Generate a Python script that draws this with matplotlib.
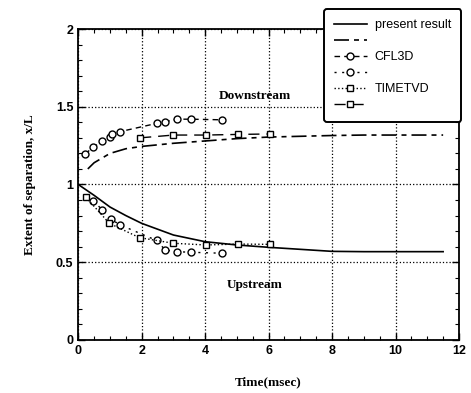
import matplotlib.pyplot as plt
from matplotlib.ticker import MultipleLocator

# present result (upstream: solid, downstream: long dash)
up_x = [0, 0.5, 1, 1.5, 2, 3, 4, 5, 6, 7, 8, 9, 10, 11.5]
up_y = [1.0, 0.93, 0.855, 0.80, 0.75, 0.675, 0.632, 0.611, 0.596, 0.583, 0.570, 0.568, 0.568, 0.568]
down_x = [0.3, 0.5, 1, 1.5, 2, 3, 4, 5, 6, 7, 8, 9, 10, 11.5]
down_y = [1.10, 1.14, 1.20, 1.23, 1.245, 1.265, 1.28, 1.295, 1.305, 1.31, 1.315, 1.318, 1.318, 1.318]

# CFL3D
cfl_down_x = [0.21, 0.47, 0.76, 1.0, 1.07, 1.32, 2.47, 2.74, 3.1, 3.56, 4.52]
cfl_down_y = [1.196, 1.239, 1.28, 1.307, 1.325, 1.34, 1.393, 1.404, 1.42, 1.42, 1.416]
cfl_up_x = [0.47, 0.76, 1.02, 1.32, 2.47, 2.74, 3.1, 3.56, 4.52]
cfl_up_y = [0.896, 0.836, 0.778, 0.74, 0.64, 0.579, 0.568, 0.564, 0.558]

# TIMETVD
tvd_up_x = [0.24, 0.98, 1.93, 3.0, 4.02, 5.03, 6.05]
tvd_up_y = [0.918, 0.75, 0.658, 0.622, 0.611, 0.617, 0.615]
tvd_down_x = [1.95, 3.0, 4.02, 5.03, 6.05]
tvd_down_y = [1.30, 1.318, 1.318, 1.322, 1.325]

fig = plt.figure(figsize=(4.71, 3.93), dpi=100)
ax = fig.add_axes([0.1662, 0.1349, 0.8083, 0.7913])

ax.plot(up_x, up_y, color="black", lw=1.2, label="present result")
ax.plot(down_x, down_y, color="black", lw=1.2, dashes=(9, 3, 3, 3), label=" ")
ax.plot(cfl_down_x, cfl_down_y, color="black", lw=1.0, dashes=(4, 3),
        marker="o", ms=5, mfc="white", mec="black", label="CFL3D")
ax.plot(cfl_up_x, cfl_up_y, color="black", lw=1.0, dashes=(1.5, 4),
        marker="o", ms=5, mfc="white", mec="black", label=" ")
ax.plot(tvd_up_x, tvd_up_y, color="black", lw=1.0, ls=":",
        marker="s", ms=5, mfc="white", mec="black", label="TIMETVD")
ax.plot(tvd_down_x, tvd_down_y, color="black", lw=1.0, dashes=(8, 5),
        marker="s", ms=5, mfc="white", mec="black", label=" ")

ax.set_xlim(0, 12)
ax.set_ylim(0, 2)
ax.xaxis.set_major_locator(MultipleLocator(2))
ax.xaxis.set_minor_locator(MultipleLocator(0.5))
ax.yaxis.set_major_locator(MultipleLocator(0.5))
ax.yaxis.set_minor_locator(MultipleLocator(0.1))
ax.set_yticks([0, 0.5, 1, 1.5, 2])
ax.set_yticklabels(["0", "0.5", "1", "1.5", "2"])
ax.tick_params(which="both", direction="in", top=True, right=True)
ax.tick_params(which="major", length=5, width=1)
ax.tick_params(which="minor", length=3, width=0.8)
for lab in ax.get_xticklabels() + ax.get_yticklabels():
    lab.set_fontfamily("Liberation Sans")
    lab.set_fontweight("bold")
    lab.set_fontsize(9)
for s in ax.spines.values():
    s.set_linewidth(1.3)
ax.grid(True, which="major", color="black", ls=":", lw=0.9)

ax.text(5.57, 1.57, "Downstream", family="Liberation Serif", weight="bold",
        fontsize=9.5, ha="center", va="center")
ax.text(5.57, 0.354, "Upstream", family="Liberation Serif", weight="bold",
        fontsize=9.5, ha="center", va="center")

ax.set_xlabel("Time(msec)", family="Liberation Serif", weight="bold",
              fontsize=9.5, labelpad=14)
ax.set_ylabel("Extent of separation, x/L", family="Liberation Serif",
              weight="bold", fontsize=9.5, labelpad=14)

leg = ax.legend(loc="upper right", bbox_to_anchor=(461 / 471, 384 / 393),
                bbox_transform=fig.transFigure, borderaxespad=0,
                prop={"family": "Liberation Sans", "size": 9},
                handlelength=2.6, handletextpad=0.65, labelspacing=0.33,
                borderpad=0.8, fancybox=True, framealpha=1, edgecolor="black")
leg.get_frame().set_linewidth(1.4)

fig.savefig("out.png", dpi=100)
